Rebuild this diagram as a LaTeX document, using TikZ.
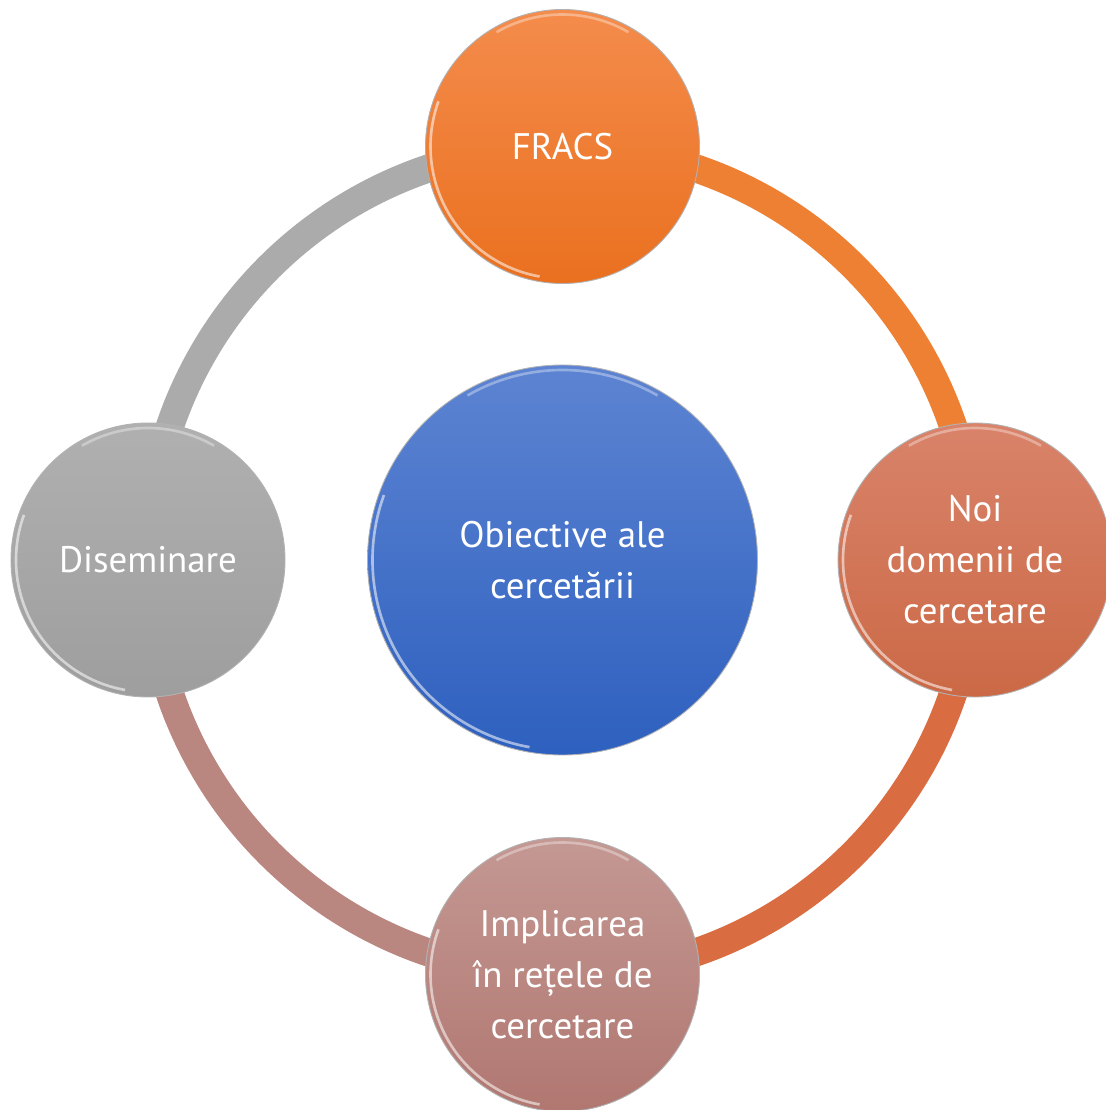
\documentclass[tikz,border=0pt]{standalone}
\usepackage{fontspec}
\setmainfont{PT Sans}
\usepackage{tikz}
\usetikzlibrary{backgrounds}
\definecolor{fracsTop}{HTML}{F48C4C}
\definecolor{fracsBot}{HTML}{EA701F}
\definecolor{noiTop}{HTML}{D9836A}
\definecolor{noiBot}{HTML}{CB6946}
\definecolor{implTop}{HTML}{C49893}
\definecolor{implBot}{HTML}{B17771}
\definecolor{disTop}{HTML}{B0B0B0}
\definecolor{disBot}{HTML}{9E9E9E}
\definecolor{objTop}{HTML}{5D84D2}
\definecolor{objBot}{HTML}{2E60BF}
\tikzset{bead/.style = {circle, minimum size=5.48cm, inner sep=0, draw=black!30,
  line width=0.5pt, text=white, align=center,
  font=\fontsize{21}{29}\selectfont}}
\tikzset{ring/.style = {line width=16pt, line cap=butt}}
\tikzset{rim/.style = {white, opacity=0.55, line width=1.5pt}}

\begin{document}
\begin{tikzpicture}
\useasboundingbox (-11.25, -11.0) rectangle (10.85, 11.2);
\node [bead, minimum size=7.8cm, top color=objTop, bottom color=objBot] (obj) at (0, 0) {Obiective ale\\cercetării};
\node [bead, top color=fracsTop, bottom color=fracsBot] (fracs) at (0, 8.27) {FRACS};
\node [bead, top color=noiTop, bottom color=noiBot] (noi) at (8.25, 0) {Noi\\domenii de\\cercetare};
\node [bead, top color=implTop, bottom color=implBot] (impl) at (0, -8.29) {Implicarea\\în rețele de\\cercetare};
\node [bead, top color=disTop, bottom color=disBot] (dis) at (-8.29, 0) {Diseminare};
% highlights on the beads
\foreach \n/\r in {obj/3.8, fracs/2.64, noi/2.64, impl/2.64, dis/2.64} {
  \draw [rim] (\n.center) ++(160:\r) arc [start angle=160, end angle=260, radius=\r];
  \draw [rim, opacity=0.35] (\n.center) ++(60:\r) arc [start angle=60, end angle=120, radius=\r];
}
\begin{scope}[on background layer]
\draw [ring, draw={rgb,255:red,238;green,128;blue,52}] (fracs.center) to[out=0, in=90] (noi.center);
\draw [ring, draw={rgb,255:red,218;green,108;blue,66}] (noi.center) to[out=-90, in=0] (impl.center);
\draw [ring, draw={rgb,255:red,186;green,134;blue,128}] (impl.center) to[out=180, in=-90] (dis.center);
\draw [ring, draw={rgb,255:red,171;green,171;blue,171}] (dis.center) to[out=90, in=180] (fracs.center);
\end{scope}
\end{tikzpicture}
\end{document}
